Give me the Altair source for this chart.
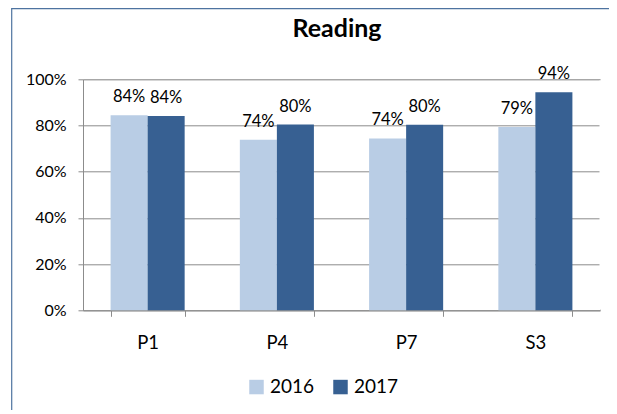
import altair as alt
import pandas as pd

TITLE = "Reading"
CATEGORIES = ["P1", "P4", "P7", "S3"]
YEARS = ["2016", "2017"]
VALUES_2016 = [0.844, 0.738, 0.744, 0.794]
VALUES_2017 = [0.841, 0.804, 0.803, 0.944]
COLORS = ["#B9CDE5", "#376092"]
Y_TICKS = [0, 0.2, 0.4, 0.6, 0.8, 1.0]

rows = []
for c, a, b in zip(CATEGORIES, VALUES_2016, VALUES_2017):
    rows.append({"cat": c, "year": YEARS[0], "value": a})
    rows.append({"cat": c, "year": YEARS[1], "value": b})
df = pd.DataFrame(rows)

W, H = 517, 231
FONT = "Lato"
GRID = "#8c8c8c"

x_enc = alt.X(
    "cat:N",
    sort=CATEGORIES,
    title=None,
    scale=alt.Scale(paddingInner=0.427, paddingOuter=0.2135),
    axis=alt.Axis(
        labelAngle=0, labelFontSize=18.5, labelFont=FONT, labelColor="#000000",
        labelPadding=17, tickBand="extent", tickSize=6, tickColor=GRID,
        domainColor=GRID, grid=False,
    ),
)
y_enc = alt.Y(
    "value:Q",
    title=None,
    scale=alt.Scale(domain=[0, 1], nice=False, zero=True),
    axis=alt.Axis(
        values=Y_TICKS, format=".0%", labelFontSize=16, labelFont=FONT,
        labelColor="#000000", labelPadding=12, tickSize=5, tickColor=GRID,
        domainColor=GRID, gridColor=GRID, grid=True,
    ),
)
xoff = alt.XOffset("year:N", sort=YEARS, scale=alt.Scale(paddingInner=0, paddingOuter=0))
color = alt.Color(
    "year:N",
    sort=YEARS,
    scale=alt.Scale(domain=YEARS, range=COLORS),
    legend=alt.Legend(
        title=None, orient="none", legendX=164, legendY=298, direction="horizontal",
        symbolType="square", symbolSize=210, symbolStrokeWidth=0, labelFontSize=19,
        labelFont=FONT, labelColor="#000000", labelOffset=4, columnPadding=16,
    ),
)

base = alt.Chart(df).encode(x=x_enc, y=y_enc, xOffset=xoff)
bars = base.mark_bar().encode(color=color)
labels = base.mark_text(
    baseline="alphabetic", dy=-13, fontSize=16.5, font=FONT, color="#000000"
).encode(text=alt.Text("value:Q", format=".0%"))

title = alt.Chart(pd.DataFrame({"t": [TITLE]})).mark_text(
    font=FONT, fontSize=25, fontWeight="bold", color="#000000",
    baseline="alphabetic", align="center",
).encode(x=alt.value(254), y=alt.value(-42.6), text="t:N")

BORDER = "#4E73A0"
left_border = alt.Chart(pd.DataFrame({"a": [0]})).mark_rule(
    color=BORDER, strokeWidth=1.2
).encode(x=alt.value(-71.3), y=alt.value(-71.3), y2=alt.value(340))
top_border = alt.Chart(pd.DataFrame({"a": [0]})).mark_rule(
    color=BORDER, strokeWidth=1.2
).encode(x=alt.value(-71.3), x2=alt.value(540), y=alt.value(-70.7))
# mask the right frame edge (the reference plot area has no right border)
right_mask = alt.Chart(pd.DataFrame({"a": [0]})).mark_rule(
    color="#ffffff", strokeWidth=2
).encode(x=alt.value(W + 0.5), y=alt.value(1), y2=alt.value(H - 1))

chart = (
    alt.layer(bars, labels, title, left_border, top_border, right_mask)
    .properties(
        width=W,
        height=H,
        autosize=alt.AutoSizeParams(type="none"),
        padding={"left": 75, "top": 71.3, "right": 9, "bottom": 100},
    )
    .configure_view(strokeWidth=0, strokeOpacity=0)
    .configure_axisX(grid=False)
    .configure(font=FONT)
)

chart.save("out.html", embed_options={"renderer": "svg", "actions": False})
